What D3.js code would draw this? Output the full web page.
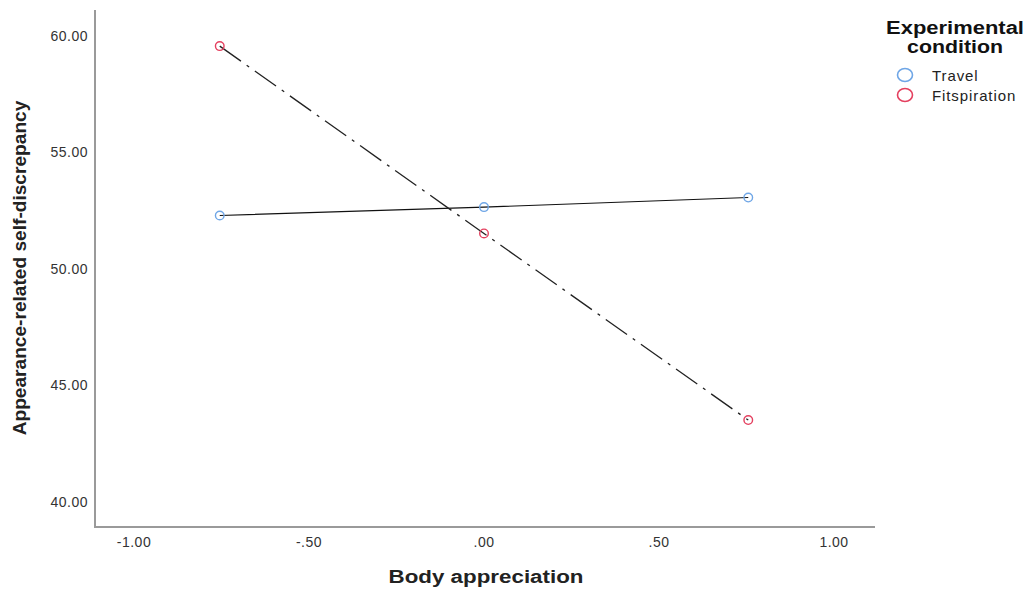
<!DOCTYPE html>
<html><head><meta charset="utf-8">
<script src="https://cdn.jsdelivr.net/npm/d3@7"></script>
<style>body{margin:0;background:#fff}svg{display:block}text{font-family:Arial,"Liberation Sans",sans-serif}</style>
</head><body>
<script>
const xValues = [-0.755, 0, 0.755];
const travel = [52.3, 52.66, 53.07];
const fitspiration = [59.57, 51.53, 43.52];
const seriesNames = ["Travel", "Fitspiration"];
const seriesColors = ["#6fa6e6", "#e4405f"];
const xTicks = [-1, -0.5, 0, 0.5, 1];
const yTicks = [40, 45, 50, 55, 60];

const W = 1031, H = 593;
const svg = d3.select("body").append("svg").attr("width", W).attr("height", H);
const x = d3.scaleLinear().domain([-1.1114, 1.1171]).range([95, 875]);
const y = d3.scaleLinear().domain([38.93, 61.12]).range([527, 10]);
const fmt = v => v.toFixed(2).replace(/^(-?)0\./, "$1.");

// text stretched horizontally to a target width (mimics the wide original rendering)
function wideText(parent, str, cx, cy, size, target, rotate, color) {
  const gg = parent.append("g");
  const t = gg.append("text").attr("text-anchor", "middle").attr("font-size", size).attr("font-weight", "bold").attr("fill", color).text(str);
  const w = t.node().getComputedTextLength();
  gg.attr("transform", `translate(${cx},${cy})${rotate ? " rotate(-90)" : ""} scale(${target / w},1)`);
  return gg;
}

const g = svg.append("g");
g.append("line").attr("x1", 95).attr("x2", 95).attr("y1", 10).attr("y2", 527).attr("stroke", "#9a9a9a").attr("stroke-width", 2);
g.append("line").attr("x1", 94).attr("x2", 875).attr("y1", 527).attr("y2", 527).attr("stroke", "#9a9a9a").attr("stroke-width", 2);

g.selectAll(".yt").data(yTicks).join("text").attr("x", 88).attr("y", d => y(d)).attr("dy", "0.35em")
  .attr("text-anchor", "end").attr("font-size", 14).attr("letter-spacing", 0.5).attr("fill", "#333").text(fmt);
g.selectAll(".xt").data(xTicks).join("text").attr("x", d => x(d)).attr("y", 547)
  .attr("text-anchor", "middle").attr("font-size", 14).attr("letter-spacing", 0.5).attr("fill", "#333").text(fmt);

wideText(svg, "Body appreciation", 486, 583, 19, 195, false, "#222");
wideText(svg, "Appearance-related self-discrepancy", 26, 268, 19, 335, true, "#222");

const line = d3.line().x((d, i) => x(xValues[i])).y(d => y(d));
svg.append("path").datum(travel).attr("d", line).attr("fill", "none").attr("stroke", "#111").attr("stroke-width", 1.1);
svg.append("path").datum(fitspiration).attr("d", line).attr("fill", "none").attr("stroke", "#222").attr("stroke-width", 1.3)
  .attr("stroke-dasharray", "26,7,3,7");

[travel, fitspiration].forEach((s, k) => {
  svg.selectAll(null).data(s).join("circle").attr("cx", (d, i) => x(xValues[i])).attr("cy", d => y(d))
    .attr("r", 4.3).attr("fill", "none").attr("stroke", seriesColors[k]).attr("stroke-width", 1.4);
});

const lg = svg.append("g");
wideText(lg, "Experimental", 955, 34, 19, 138, false, "#111");
wideText(lg, "condition", 955, 53, 19, 96, false, "#111");
seriesNames.forEach((n, i) => {
  lg.append("ellipse").attr("cx", 905).attr("cy", 75 + i * 20).attr("rx", 7.5).attr("ry", 6.5).attr("fill", "none").attr("stroke", seriesColors[i]).attr("stroke-width", 1.6);
  lg.append("text").attr("x", 932).attr("y", 76 + i * 20).attr("dy", "0.35em").attr("font-size", 15).attr("letter-spacing", 0.9).attr("fill", "#222").text(n);
});
</script>
</body></html>
